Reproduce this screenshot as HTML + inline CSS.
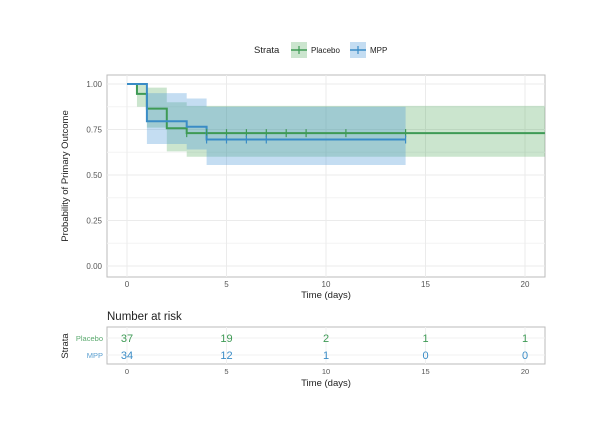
<!DOCTYPE html>
<html><head><meta charset="utf-8"><style>
body{margin:0;background:#fff;font-family:"Liberation Sans",sans-serif}
svg{display:block}
</style></head><body>
<svg id="c" width="604" height="428" xmlns="http://www.w3.org/2000/svg"></svg>
<script>
const times=[0,5,10,15,20];
const yTicks=[0,0.25,0.5,0.75,1];
const placeboT=[0,0.5,1,2,3,21];
const placeboS=[1,0.946,0.865,0.757,0.73,0.73];
const placeboLo=[1,0.875,0.76,0.63,0.6,0.6];
const placeboHi=[1,1,0.98,0.9,0.88,0.88];
const mppT=[0,1,3,4,14];
const mppS=[1,0.795,0.765,0.695,0.695];
const mppLo=[1,0.67,0.64,0.555,0.555];
const mppHi=[1,0.95,0.92,0.875,0.875];
const placeboCens=[3,4,5,6,7,8,9,11,14];
const mppCens=[4,5,6,7,14];
const placeboRisk=[37,19,2,1,1];
const mppRisk=[34,12,1,0,0];
const G="#3e9a55",B="#3a8cc6";
const svg=document.getElementById('c');
const NS="http://www.w3.org/2000/svg";
function el(t,a,txt){const e=document.createElementNS(NS,t);for(const k in a)e.setAttribute(k,a[k]);if(txt!==undefined)e.textContent=txt;svg.appendChild(e);return e;}
const X=t=>127+t*19.9;
const Y=v=>266-v*182;
// panel
let p=el('rect',{x:107,y:75,width:438,height:202,fill:'#fff',stroke:'#bbb','stroke-width':1});

for(let i=0;i<yTicks.length;i++){const v=yTicks[i];
 let g=el('line',{x1:107,x2:545,y1:Y(v),y2:Y(v),stroke:'#ebebeb'});
 if(i<yTicks.length-1){let m=el('line',{x1:107,x2:545,y1:Y(v+0.125),y2:Y(v+0.125),stroke:'#f4f4f4'});}
 let t=el('text',{x:102,y:Y(v)+3,'font-size':8,fill:'#555','text-anchor':'end'},v.toFixed(2));
}
for(const t of times){
 let g=el('line',{x1:X(t),x2:X(t),y1:75,y2:277,stroke:'#ebebeb'});
 let l=el('text',{x:X(t),y:287,'font-size':8,fill:'#555','text-anchor':'middle'},t);
}
function ribbon(T,lo,hi,fill,name){let top='',bot='';
 for(let i=0;i<T.length-1;i++){top+=`${X(T[i])},${Y(hi[i])} ${X(T[i+1])},${Y(hi[i])} `;}
 for(let i=T.length-2;i>=0;i--){bot+=`${X(T[i+1])},${Y(lo[i])} ${X(T[i])},${Y(lo[i])} `;}
 let r=el('polygon',{points:top+bot,fill:fill});}
function step(T,S,col,name){let d=`M${X(T[0])},${Y(S[0])}`;
 for(let i=1;i<T.length;i++){d+=` H${X(T[i])} V${Y(S[i])}`;}
 let s=el('path',{d:d,fill:'none',stroke:col,'stroke-width':2});}
function sAt(T,S,t){let v=S[0];for(let i=0;i<T.length;i++)if(T[i]<=t)v=S[i];return v;}
ribbon(placeboT,placeboLo,placeboHi,'rgba(70,160,80,0.28)','placebo-ci-band');
ribbon(mppT,mppLo,mppHi,'rgba(70,150,215,0.32)','mpp-ci-band');
step(placeboT,placeboS,G,'placebo-curve');
step(mppT,mppS,B,'mpp-curve');
for(const t of placeboCens){const y=Y(sAt(placeboT,placeboS,t));let m=el('line',{x1:X(t),x2:X(t),y1:y-4,y2:y+4,stroke:G,'stroke-width':1.2});}
for(const t of mppCens){const y=Y(sAt(mppT,mppS,t));let m=el('line',{x1:X(t),x2:X(t),y1:y-4,y2:y+4,stroke:B,'stroke-width':1.2});}
let a=el('text',{x:0,y:0,'font-size':9.5,fill:'#222','text-anchor':'middle',transform:'translate(68,176) rotate(-90)'},'Probability of Primary Outcome');
a=el('text',{x:326,y:298,'font-size':9.5,fill:'#222','text-anchor':'middle'},'Time (days)');
// legend
a=el('text',{x:254,y:53,'font-size':9.5,fill:'#222'},'Strata');
a=el('rect',{x:291,y:42,width:16,height:16,fill:'rgba(70,160,80,0.28)'});
el('line',{x1:291,x2:307,y1:50,y2:50,stroke:G,'stroke-width':1.5});el('line',{x1:299,x2:299,y1:46,y2:54,stroke:G,'stroke-width':1.2});
a=el('text',{x:311,y:53,'font-size':8,fill:'#222'},'Placebo');
a=el('rect',{x:350,y:42,width:16,height:16,fill:'rgba(70,150,215,0.32)'});
el('line',{x1:350,x2:366,y1:50,y2:50,stroke:B,'stroke-width':1.5});el('line',{x1:358,x2:358,y1:46,y2:54,stroke:B,'stroke-width':1.2});
a=el('text',{x:370,y:53,'font-size':8,fill:'#222'},'MPP');
// risk table
a=el('text',{x:107,y:320,'font-size':11.5,fill:'#222'},'Number at risk');
a=el('rect',{x:107,y:327,width:438,height:37,fill:'#fff',stroke:'#bbb'});
for(const t of times){let g=el('line',{x1:X(t),x2:X(t),y1:327,y2:364,stroke:'#f0f0f0'});
 let l=el('text',{x:X(t),y:374,'font-size':7.5,fill:'#555','text-anchor':'middle'},t);}
el('line',{x1:107,x2:545,y1:338,y2:338,stroke:'#f0f0f0'});el('line',{x1:107,x2:545,y1:355,y2:355,stroke:'#f0f0f0'});
for(let i=0;i<times.length;i++){
 let n=el('text',{x:X(times[i]),y:342,'font-size':11,fill:G,'text-anchor':'middle'},placeboRisk[i]);
 n=el('text',{x:X(times[i]),y:359,'font-size':11,fill:B,'text-anchor':'middle'},mppRisk[i]);
}
a=el('text',{x:103,y:341,'font-size':7.5,fill:'#5aa96e','text-anchor':'end'},'Placebo');
a=el('text',{x:103,y:358,'font-size':7.5,fill:'#5a9fd0','text-anchor':'end'},'MPP');
a=el('text',{x:0,y:0,'font-size':9.5,fill:'#222','text-anchor':'middle',transform:'translate(68,346) rotate(-90)'},'Strata');
a=el('text',{x:326,y:386,'font-size':9.5,fill:'#222','text-anchor':'middle'},'Time (days)');
</script>
</body></html>
